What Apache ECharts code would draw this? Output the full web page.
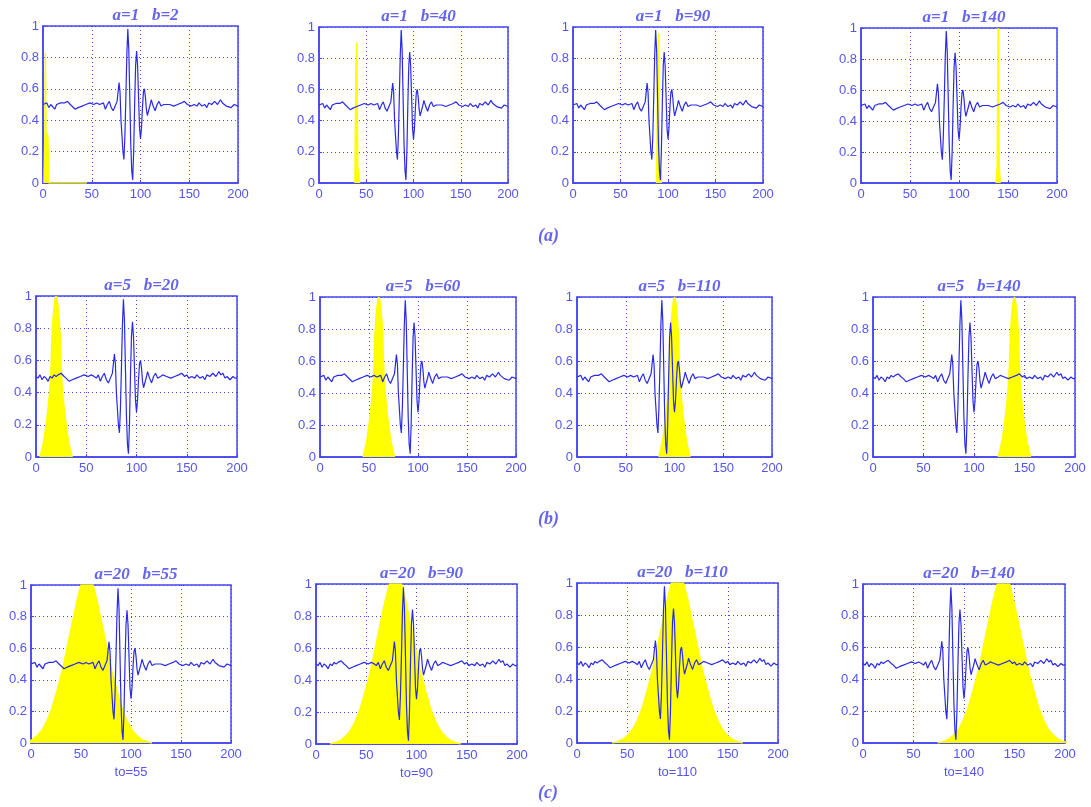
<!DOCTYPE html>
<html>
<head>
<meta charset="utf-8">
<script src="https://cdn.jsdelivr.net/npm/echarts@6/dist/echarts.min.js"></script>
<style>
  html, body { margin: 0; padding: 0; background: #fff; }
  #main { width: 1091px; height: 807px; }
</style>
</head>
<body>
<div id="main"></div>
<script>
// signal (same in every panel)
var signalX = [0, 2, 4, 6, 8, 10, 12, 14, 16, 18, 20, 22, 25, 28, 30, 33, 36, 40, 44, 48, 52, 55, 58, 60, 62, 64, 66, 68, 70, 72, 74, 76,
  78, 79, 80, 81, 82, 83, 84, 85, 86, 87, 88, 89, 90, 91, 92, 93, 94, 95, 96, 97, 98, 99, 100, 101, 102, 103, 104, 105, 106, 107, 108, 110, 111, 113, 115, 117, 119, 121, 124,
  126, 130, 134, 138, 142, 145, 148, 150, 152, 155, 158, 160, 163, 166, 168, 170, 173, 176, 179, 182, 184, 186, 188, 190, 193, 196, 198, 200]
var signalY = [0.50, 0.49, 0.51, 0.48, 0.50, 0.49, 0.47, 0.50, 0.49, 0.51, 0.50, 0.51, 0.52, 0.50, 0.49, 0.47, 0.48, 0.49, 0.50, 0.51, 0.50, 0.51, 0.50, 0.49, 0.51, 0.47, 0.50, 0.52, 0.48, 0.46, 0.49, 0.52,
  0.64, 0.58, 0.40, 0.30, 0.20, 0.15, 0.30, 0.55, 0.82, 0.98, 0.85, 0.55, 0.25, 0.08, 0.02, 0.20, 0.50, 0.75, 0.84, 0.75, 0.55, 0.35, 0.28, 0.35, 0.48, 0.58, 0.60, 0.55, 0.47, 0.43, 0.44, 0.50, 0.53, 0.49, 0.46, 0.50, 0.52, 0.49, 0.50,
  0.51, 0.50, 0.49, 0.50, 0.51, 0.52, 0.50, 0.51, 0.49, 0.50, 0.49, 0.51, 0.49, 0.50, 0.48, 0.51, 0.50, 0.52, 0.50, 0.53, 0.51, 0.52, 0.49, 0.50, 0.48, 0.50, 0.49, 0.49]

// row (a): a=1, narrow spikes read per panel
var spikeA1 = [[1, 0], [2, 0.33], [2.4, 0.83], [3, 0.33], [5, 0.3], [6, 0], [45, 0]]
var spikeA2 = [[38, 0], [39, 0.72], [40, 0.9], [41, 0.1], [42, 0.06], [43, 0]]
var spikeA3 = [[88, 0], [89, 0.68], [90, 0.96], [91, 0.12], [92, 0.1], [93, 0]]
var spikeA4 = [[138, 0], [139, 0.12], [140, 1.0], [141, 0.12], [142, 0]]

// row (b): a=5 window shape (offset from centre, height)
var shapeBOffsets = [-16, -14, -12, -10, -8, -6, -5, -4, -3, -2, -1, 0, 1, 2, 3, 4, 5, 6, 8, 10, 12, 14, 16]
var shapeBValues = [0, 0.05, 0.11, 0.2, 0.3, 0.44, 0.56, 0.76, 0.86, 0.93, 0.98, 1.0, 0.98, 0.93, 0.86, 0.76, 0.56, 0.44, 0.3, 0.2, 0.11, 0.05, 0]
var centersB = [20, 60, 100, 140]

// row (c): a=20 window shape
var shapeCOffsets = [-65, -60, -55, -50, -45, -40, -35, -30, -25, -20, -15, -10, -6, 0, 6, 10, 15, 20, 25, 30, 35, 40, 45, 50, 55, 60, 65]
var shapeCValues = [0, 0.008, 0.02, 0.045, 0.08, 0.14, 0.22, 0.33, 0.45, 0.6, 0.75, 0.9, 1.0, 1.0, 1.0, 0.9, 0.75, 0.6, 0.45, 0.33, 0.22, 0.14, 0.08, 0.045, 0.02, 0.008, 0]
var centersC = [56, 79, 100, 139]

var titles = [
  ['a=1   b=2', 'a=1   b=40', 'a=1   b=90', 'a=1   b=140'],
  ['a=5   b=20', 'a=5   b=60', 'a=5   b=110', 'a=5   b=140'],
  ['a=20   b=55', 'a=20   b=90', 'a=20   b=110', 'a=20   b=140']
]
var toLabels = ['to=55', 'to=90', 'to=110', 'to=140']
var captions = ['(a)', '(b)', '(c)']

// plot boxes [left, top, width, height]
var boxes = [
  [[43, 26, 195, 157], [319, 27, 189, 156], [573, 27, 190, 156], [861, 28, 196, 155]],
  [[36, 296, 201, 161], [320, 297, 196, 160], [577, 297, 195, 160], [873, 297, 202, 160]],
  [[31, 585, 200, 158], [316, 584, 201, 160], [577, 583, 201, 160], [863, 584, 202, 159]]
]
var captionY = [238, 521, 795]

var blue = '#4646f2'
var textBlue = '#5555ee'

function shifted (offsets, values, c) {
  var out = []
  for (var i = 0; i < offsets.length; i++) {
    out.push([c + offsets[i], values[i]])
  }
  return out
}

var signal = []
for (var i = 0; i < signalX.length; i++) {
  signal.push([signalX[i], signalY[i]])
}

var windows = [
  [spikeA1, spikeA2, spikeA3, spikeA4],
  centersB.map(function (c) { return shifted(shapeBOffsets, shapeBValues, c) }),
  centersC.map(function (c) { return shifted(shapeCOffsets, shapeCValues, c) })
]

var grid = [], xAxis = [], yAxis = [], series = [], title = [], graphic = []
var k = 0
for (var r = 0; r < 3; r++) {
  for (var p = 0; p < 4; p++) {
    var b = boxes[r][p]
    grid.push({
      left: b[0], top: b[1], width: b[2], height: b[3],
      show: true, borderColor: blue, borderWidth: 1.5, backgroundColor: 'transparent'
    })
    xAxis.push({
      type: 'value', gridIndex: k, min: 0, max: 200, interval: 50,
      name: r === 2 ? toLabels[p] : '',
      nameLocation: 'middle', nameGap: 23,
      nameTextStyle: { color: textBlue, fontSize: 13, fontFamily: 'Liberation Sans' },
      axisLine: { lineStyle: { color: blue, width: 1.5 } },
      axisTick: { inside: true, length: 3, lineStyle: { color: blue } },
      axisLabel: { color: textBlue, fontSize: 13, fontFamily: 'Liberation Sans', margin: 5 },
      splitLine: { show: true, lineStyle: { color: blue, type: [1, 3], width: 1 } }
    })
    yAxis.push({
      type: 'value', gridIndex: k, min: 0, max: 1, interval: 0.2,
      axisLine: { show: true, lineStyle: { color: blue, width: 1.5 } },
      axisTick: { show: true, inside: true, length: 3, lineStyle: { color: blue } },
      axisLabel: { color: textBlue, fontSize: 13, fontFamily: 'Liberation Sans', margin: 4 },
      splitLine: { show: true, lineStyle: { color: blue, type: [1, 3], width: 1 } }
    })
    series.push({
      type: 'line', xAxisIndex: k, yAxisIndex: k, data: windows[r][p],
      symbol: 'none', z: 1, animation: false,
      lineStyle: { color: '#ffff00', width: 1.5 },
      areaStyle: { color: '#ffff00', opacity: 1 }
    })
    series.push({
      type: 'line', xAxisIndex: k, yAxisIndex: k, data: signal,
      symbol: 'none', z: 3, animation: false,
      lineStyle: { color: '#2a2ae6', width: 1.2 }
    })
    title.push({
      text: titles[r][p],
      left: b[0] + b[2] / 2, top: b[1] - 24, textAlign: 'center',
      textStyle: { color: '#6464ee', fontSize: 17, fontStyle: 'italic', fontWeight: 'bold', fontFamily: 'Liberation Serif' }
    })
    k++
  }
  graphic.push({
    type: 'text', left: 538, top: captionY[r] - 11,
    style: { text: captions[r], fill: '#6464ee', fontSize: 18, fontStyle: 'italic', fontWeight: 'bold', fontFamily: 'Liberation Serif' }
  })
}

var myChart = echarts.init(document.getElementById('main'), null, { renderer: 'canvas' })
myChart.setOption({
  animation: false,
  backgroundColor: '#fff',
  title: title,
  grid: grid,
  xAxis: xAxis,
  yAxis: yAxis,
  series: series,
  graphic: graphic
})
</script>
</body>
</html>
